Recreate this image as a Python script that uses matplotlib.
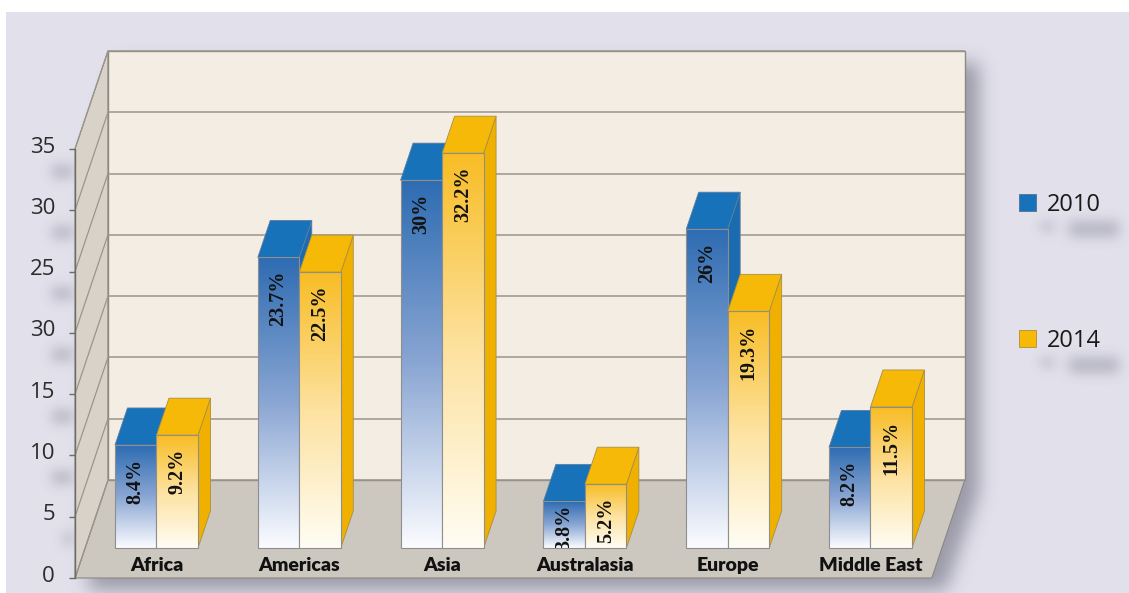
import numpy as np
import matplotlib
matplotlib.use("Agg")
import matplotlib.pyplot as plt
from matplotlib.patches import Polygon, Rectangle, Patch
from matplotlib.colors import LinearSegmentedColormap
from matplotlib.path import Path

# ---- data -------------------------------------------------------------
regions = ["Africa", "Americas", "Asia", "Australasia", "Europe", "Middle East"]
share_2010 = [8.4, 23.7, 30.0, 3.8, 26.0, 8.2]
share_2014 = [9.2, 22.5, 32.2, 5.2, 19.3, 11.5]
series_names = ["2010", "2014"]
y_ticks = [0, 5, 10, 15, 20, 25, 30, 35]
y_tick_labels = ["0", "5", "10", "15", "30", "25", "30", "35"]

# ---- layout / projection ---------------------------------------------
W, H, DPI = 1129, 593, 100
PX_CAT = 142.8          # pixels per category step
PX_VAL = 12.26          # pixels per value unit
ORIGIN_PX = (146.4, 578.0)   # pixel of (category 0, value 0) on the front plane
DEPTH_PX = (33.0, 98.0)      # oblique offset of the full floor depth

XLIM = (-ORIGIN_PX[0] / PX_CAT, (W - ORIGIN_PX[0]) / PX_CAT)
YLIM = (-(H - ORIGIN_PX[1]) / PX_VAL, ORIGIN_PX[1] / PX_VAL)
DX = DEPTH_PX[0] / PX_CAT
DV = DEPTH_PX[1] / PX_VAL

X_LO, X_HI = -0.5, len(regions) - 0.5
V_TOP = y_ticks[-1]
BAR_W = 41.5 / PX_CAT
Z_FRONT, Z_BACK = 0.306, 0.684


def proj(x, v, z):
    """Oblique projection of (category, value, depth) to axes data coords."""
    return (x + z * DX, v + z * DV)


BLUE = dict(top="#1772b9", side="#1a6bb0", edge="#5d7d9f",
            grad=["#fbfcff", "#8aa6d3", "#2e6cb2"])
GOLD = dict(top="#f6b908", side="#efb000", edge="#a88f45",
            grad=["#fffdf4", "#fde2a0", "#f8bd25"])
styles = [BLUE, GOLD]

fig = plt.figure(figsize=(W / DPI, H / DPI), dpi=DPI, facecolor="white")
ax = fig.add_axes([0, 0, 1, 1])
ax.axis("off")

# lavender panel behind the chart
ax.add_patch(Rectangle((6 / W, 0), 1, 1 - 12 / H, transform=ax.transAxes,
                       facecolor="#e1e0eb", edgecolor="none", zorder=0))


def blur(a, sigma):
    r = int(3 * sigma)
    k = np.exp(-0.5 * (np.arange(-r, r + 1) / sigma) ** 2)
    k /= k.sum()
    a = np.apply_along_axis(lambda m: np.convolve(m, k, mode="same"), 0, a)
    a = np.apply_along_axis(lambda m: np.convolve(m, k, mode="same"), 1, a)
    return a


# ---- soft drop shadow of the chart box --------------------------------
gx = XLIM[0] + (np.arange(W) + 0.5) / W * (XLIM[1] - XLIM[0])
gy = YLIM[1] - (np.arange(H) + 0.5) / H * (YLIM[1] - YLIM[0])
GX, GY = np.meshgrid(gx, gy)
outline = np.array([proj(X_LO, 0, 0), proj(X_HI, 0, 0), proj(X_HI, 0, 1),
                    proj(X_HI, V_TOP, 1), proj(X_LO, V_TOP, 1), proj(X_LO, V_TOP, 0)])
outline = outline + np.array([14 / PX_CAT, -12 / PX_VAL])
mask = Path(outline).contains_points(
    np.column_stack([GX.ravel(), GY.ravel()])).reshape(H, W).astype(float)
box_alpha = 0.5 * blur(mask, 9.0)

shadow = np.zeros((H, W, 4))
shadow[..., 0] = 0.33
shadow[..., 1] = 0.33
shadow[..., 2] = 0.40
shadow[..., 3] = box_alpha
shadow_img = ax.imshow(shadow, extent=(XLIM[0], XLIM[1], YLIM[0], YLIM[1]),
                       origin="upper", aspect="auto", interpolation="bilinear",
                       zorder=1)

# ---- walls and floor --------------------------------------------------
wall_edge = "#8d8882"
floor = [proj(X_LO, 0, 0), proj(X_HI, 0, 0), proj(X_HI, 0, 1), proj(X_LO, 0, 1)]
side = [proj(X_LO, 0, 0), proj(X_LO, V_TOP, 0), proj(X_LO, V_TOP, 1), proj(X_LO, 0, 1)]
back = [proj(X_LO, 0, 1), proj(X_HI, 0, 1), proj(X_HI, V_TOP, 1), proj(X_LO, V_TOP, 1)]
ax.add_patch(Polygon(floor, closed=True, facecolor="#ccc7bf", edgecolor=wall_edge, lw=0.8, zorder=2))
ax.add_patch(Polygon(side, closed=True, facecolor="#d8d2c9", edgecolor=wall_edge, lw=0.8, zorder=2))
ax.add_patch(Polygon(back, closed=True, facecolor="#f3ede3", edgecolor=wall_edge, lw=1.0, zorder=2))

grid_c = "#9c958c"
for v in y_ticks:
    (bx0, by0), (bx1, by1) = proj(X_LO, v, 1), proj(X_HI, v, 1)
    ax.plot([bx0, bx1], [by0, by1], color=grid_c, lw=1.1, zorder=3, solid_capstyle="butt")
    (sx0, sy0), (sx1, sy1) = proj(X_LO, v, 0), proj(X_LO, v, 1)
    ax.plot([sx0, sx1], [sy0, sy1], color=grid_c, lw=0.9, zorder=3)

# value axis on the front-left edge
ax.plot([X_LO, X_LO], [0, V_TOP], color="#6e6a66", lw=1.0, zorder=3.5)
ax.plot([X_LO] * len(y_ticks), y_ticks, ls="none", marker=0, markersize=4.5,
        mew=1.0, color="#6e6a66", zorder=3.5)

shadowed = []
for v, lab in zip(y_ticks, y_tick_labels):
    shadowed.append(ax.text(X_LO - 20 / PX_CAT, v + 0.15, lab, ha="right", va="center",
                            fontsize=16, family="Open Sans", color="#2b2b2b", zorder=1.5))

# ---- 3D bars ----------------------------------------------------------
order = 0
for i, name in enumerate(regions):
    for s, vals in enumerate([share_2010, share_2014]):
        val = vals[i]
        st = styles[s]
        x0 = i - BAR_W + s * BAR_W
        x1 = x0 + BAR_W
        zo = 10 + order * 0.1
        order += 1

        side_face = [proj(x1, 0, Z_FRONT), proj(x1, val, Z_FRONT),
                     proj(x1, val, Z_BACK), proj(x1, 0, Z_BACK)]
        top_face = [proj(x0, val, Z_FRONT), proj(x1, val, Z_FRONT),
                    proj(x1, val, Z_BACK), proj(x0, val, Z_BACK)]
        ax.add_patch(Polygon(side_face, closed=True, facecolor=st["side"],
                             edgecolor=st["edge"], lw=0.6, zorder=zo))
        ax.add_patch(Polygon(top_face, closed=True, facecolor=st["top"],
                             edgecolor=st["edge"], lw=0.6, zorder=zo + 0.01))

        fx0, fy0 = proj(x0, 0, Z_FRONT)
        fx1, fy1 = proj(x1, val, Z_FRONT)
        cmap = LinearSegmentedColormap.from_list("face", st["grad"])
        ax.imshow(np.linspace(0, 1, 256).reshape(-1, 1), cmap=cmap, origin="lower",
                  extent=(fx0, fx1, fy0, fy1), aspect="auto",
                  interpolation="bilinear", zorder=zo + 0.02)
        front = Rectangle((fx0, fy0), fx1 - fx0, fy1 - fy0, facecolor="none",
                          edgecolor="#8e8e8e", lw=0.8, zorder=zo + 0.03)
        ax.add_patch(front)

        # short bars get their label pushed up to the top edge
        pad = 1.1 if val >= 5 else 0.25
        t = ax.text((fx0 + fx1) / 2, fy1 - pad, f"{val:g}%", rotation=90,
                    ha="center", va="top", fontsize=14.5, family="Liberation Serif",
                    fontweight="bold", color="#121212", zorder=zo + 0.04)
        t.set_clip_on(True)
        t.set_clip_path(front)

    cx, cy = proj(i, 1.05, 0)
    ax.text(cx + Z_FRONT * DX, cy, name, ha="center", va="center", fontsize=14,
            family="Lato", fontweight="heavy", color="#111111", zorder=30)

# ---- legend -----------------------------------------------------------
handles = [Patch(facecolor=BLUE["top"], edgecolor="#4f7193", lw=0.6),
           Patch(facecolor=GOLD["top"], edgecolor="#b0902e", lw=0.6)]
leg = ax.legend(handles, series_names, loc="upper left",
                bbox_to_anchor=(1019 / W, 1 - 193 / H), frameon=False,
                prop={"family": "Open Sans", "size": 17},
                handlelength=0.72, handleheight=0.72, handletextpad=0.45,
                labelspacing=4.75, borderpad=0, borderaxespad=0)
for txt in leg.get_texts():
    txt.set_color("#1a1a1a")
shadowed += list(leg.get_texts()) + list(leg.legend_handles)

ax.set_xlim(*XLIM)
ax.set_ylim(*YLIM)

# ---- blurred smudge shadows under the axis labels and legend -----------
fig.canvas.draw()
renderer = fig.canvas.get_renderer()
smudge = np.zeros((H, W))
SH_DX, SH_DY = 20, 24      # pixel offset of the smudge (right, down)
for art in shadowed:
    bb = art.get_window_extent(renderer)
    c0 = int(round(bb.x0 + 2 + SH_DX))
    c1 = int(round(bb.x1 - 2 + SH_DX))
    r0 = int(round(H - bb.y1 + 4 + SH_DY))
    r1 = int(round(H - bb.y0 - 4 + SH_DY))
    smudge[max(r0, 0):max(min(r1, H), 0), max(c0, 0):max(min(c1, W), 0)] = 1.0
smudge_alpha = 0.3 * blur(smudge, 6.0)
shadow[..., 3] = 1 - (1 - box_alpha) * (1 - smudge_alpha)
shadow_img.set_data(shadow)

fig.savefig("out.png", dpi=DPI, facecolor="white")
